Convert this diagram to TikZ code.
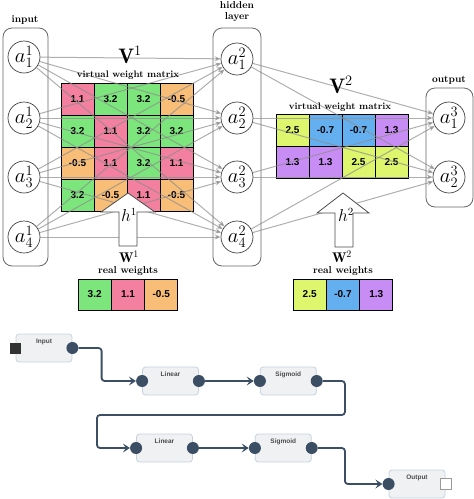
\documentclass[tikz,border=0pt]{standalone}
\usepackage{fontspec}
\setsansfont{Liberation Sans}
\usetikzlibrary{positioning,arrows.meta}
\definecolor{cellpink}{HTML}{F2809E}
\definecolor{cellgreen}{HTML}{7CE67C}
\definecolor{cellorange}{HTML}{F8BE78}
\definecolor{cellyellow}{HTML}{DEF56E}
\definecolor{cellblue}{HTML}{64AFF0}
\definecolor{cellpurple}{HTML}{C88CF5}
\definecolor{wireslate}{HTML}{3B4E63}
\definecolor{blockfill}{HTML}{EFF1F3}
\definecolor{blockedge}{HTML}{C5D2DE}

\begin{document}
\begin{tikzpicture}[
  x=1pt, y=-1pt,
  layerbox/.style={draw=black!60, rounded corners=9pt, line width=0.8pt},
  layername/.style={font=\fontsize{10}{12}\selectfont\bfseries, align=center, inner sep=0pt},
  neuron/.style={
    circle, draw=black!75, fill=white, line width=0.7pt,
    minimum size=32pt, inner sep=0pt,
    font=\fontsize{21}{24}\selectfont
  },
  cell/.style={
    draw=black, line width=1pt,
    minimum width=33pt, minimum height=32pt, inner sep=0pt,
    font=\sffamily\bfseries\fontsize{10}{12}\selectfont
  },
  wcell/.style={cell, minimum width=33.3pt, minimum height=31pt},
  link/.style={draw=black!45, line width=1pt, opacity=.7, -{Stealth[length=6pt,width=5pt]}},
  hollow/.style={draw=black!70, fill=white, line width=0.8pt},
  bigmat/.style={font=\fontsize{21}{24}\selectfont, inner sep=0pt},
  smallmat/.style={font=\fontsize{14}{16}\selectfont, inner sep=0pt},
  subname/.style={font=\fontsize{9.5}{11}\selectfont\bfseries, inner sep=0pt},
  block/.style={
    draw=blockedge, fill=blockfill, rounded corners=3pt,
    minimum width=56pt, minimum height=28pt, line width=0.8pt
  },
  blockname/.style={anchor=north, yshift=-3pt, inner sep=2pt,
    font=\sffamily\bfseries\fontsize{6.5}{8}\selectfont, text=black!70},
  port/.style={circle, fill=wireslate, minimum size=12pt, inner sep=0pt},
  wire/.style={draw=wireslate, line width=1.8pt, rounded corners=3pt,
    -{Stealth[length=7pt, width=9pt, inset=3pt]}},
]
\useasboundingbox (0,0) rectangle (474,499);

% Layer frames and their titles.
\node[layerbox, minimum width=45pt, minimum height=238pt] (inbox) at (25.5,147) {};
\node[layerbox, minimum width=48pt, minimum height=238pt] (hidbox) at (237,147) {};
\node[layerbox, minimum width=47pt, minimum height=119pt] (outbox) at (449.5,147.5) {};
\node[layername] (inname) at (25,20) {input};
\node[layername] (hidname) at (237,12) {hidden\\[-1pt]layer};
\node[layername] (outname) at (449,80) {output};

% Virtual weight matrices.
\foreach \r/\c/\val/\col in {
  1/1/1.1/cellpink, 1/2/3.2/cellgreen, 1/3/3.2/cellgreen, 1/4/-0.5/cellorange,
  2/1/3.2/cellgreen, 2/2/1.1/cellpink, 2/3/3.2/cellgreen, 2/4/3.2/cellgreen,
  3/1/-0.5/cellorange, 3/2/1.1/cellpink, 3/3/3.2/cellgreen, 3/4/1.1/cellpink,
  4/1/3.2/cellgreen, 4/2/-0.5/cellorange, 4/3/1.1/cellpink, 4/4/-0.5/cellorange}
  \node[cell, fill=\col] (vone-\r-\c) at ({61+33*\c-16.5},{83+32*\r-16}) {\val};
\foreach \r/\c/\val/\col in {
  1/1/2.5/cellyellow, 1/2/-0.7/cellblue, 1/3/-0.7/cellblue, 1/4/1.3/cellpurple,
  2/1/1.3/cellpurple, 2/2/1.3/cellpurple, 2/3/2.5/cellyellow, 2/4/2.5/cellyellow}
  \node[cell, fill=\col] (vtwo-\r-\c) at ({276+33*\c-16.5},{114+32*\r-16}) {\val};

% Real weights.
\foreach \c/\val/\col in {1/3.2/cellgreen, 2/1.1/cellpink, 3/-0.5/cellorange}
  \node[wcell, fill=\col] (wone-\c) at ({78+33.3*\c-16.65},294.5) {\val};
\foreach \c/\val/\col in {1/2.5/cellyellow, 2/-0.7/cellblue, 3/1.3/cellpurple}
  \node[wcell, fill=\col] (wtwo-\c) at ({293+33.3*\c-16.65},294.5) {\val};

% Neurons.
\node[neuron] (in1) at (24,57) {$a^1_1$};
\node[neuron] (in2) at (24,118) {$a^1_2$};
\node[neuron] (in3) at (24,177) {$a^1_3$};
\node[neuron] (in4) at (24,237) {$a^1_4$};
\node[neuron] (hid1) at (237,59) {$a^2_1$};
\node[neuron] (hid2) at (237,118) {$a^2_2$};
\node[neuron] (hid3) at (237,177) {$a^2_3$};
\node[neuron] (hid4) at (237,237) {$a^2_4$};
\node[neuron] (out1) at (449,118) {$a^3_1$};
\node[neuron] (out2) at (449,177) {$a^3_2$};

% All-to-all connections, drawn over the matrices.
\foreach \i in {1,...,4}
  \foreach \j in {1,...,4}
    \draw[link] (in\i) -- (hid\j);
\foreach \i in {1,...,4}
  \foreach \j in {1,2}
    \draw[link] (hid\i) -- (out\j);

% Hollow arrows from real to virtual weights.
\draw[hollow] (128,193) -- (155,212) -- (137,212) -- (137,246)
  -- (119,246) -- (119,212) -- (101,212) -- cycle;
\draw[hollow] (343,193) -- (369,213) -- (353,213) -- (353,247)
  -- (335,247) -- (335,213) -- (317,213) -- cycle;
\node[font=\fontsize{16}{18}\selectfont, inner sep=0pt] (hone) at (129,215) {$h^1$};
\node[font=\fontsize{16}{18}\selectfont, inner sep=0pt] (htwo) at (346,215) {$h^2$};

% Matrix titles.
\node[bigmat] (vonename) at (130,55) {$\mathbf{V}^1$};
\node[subname] (vonesub) at (128,75) {virtual weight matrix};
\node[bigmat] (vtwoname) at (341,85) {$\mathbf{V}^2$};
\node[subname] (vtwosub) at (340,107) {virtual weight matrix};
\node[smallmat] (wonename) at (129,257) {$\mathbf{W}^1$};
\node[subname, font=\fontsize{10}{12}\selectfont\bfseries] (wonesub) at (128,271) {real weights};
\node[smallmat] (wtwoname) at (342,257) {$\mathbf{W}^2$};
\node[subname, font=\fontsize{10}{12}\selectfont\bfseries] (wtwosub) at (343,271) {real weights};

% Layer graph below.
\node[block, label={[blockname]north:Input}] (inp) at (44,348) {};
\node[block, label={[blockname]north:Linear}] (lin1) at (170.5,381) {};
\node[block, label={[blockname]north:Sigmoid}, right=61pt of lin1] (sig1) {};
\node[block, label={[blockname]north:Linear}] (lin2) at (164.5,448) {};
\node[block, label={[blockname]north:Sigmoid}, right=62pt of lin2] (sig2) {};
\node[block, label={[blockname]north:Output}] (outb) at (417,484) {};

\node[fill=black!80, minimum size=11pt, inner sep=0pt] (inp-sq) at (inp.west) {};
\node[fill=white, draw=black!40, line width=0.8pt, minimum size=11pt, inner sep=0pt] (outb-sq) at (outb.east) {};

\node[port] (inp-o) at (inp.east) {};
\node[port] (lin1-i) at (lin1.west) {};
\node[port] (lin1-o) at (lin1.east) {};
\node[port] (sig1-i) at (sig1.west) {};
\node[port] (sig1-o) at (sig1.east) {};
\node[port] (lin2-i) at (lin2.west) {};
\node[port] (lin2-o) at (lin2.east) {};
\node[port] (sig2-i) at (sig2.west) {};
\node[port] (sig2-o) at (sig2.east) {};
\node[port] (outb-i) at (outb.west) {};

\coordinate (turn) at (97,415);
\draw[wire] (inp-o.east) -- ++(23,0) |- (lin1-i.west);
\draw[wire] (lin1-o) -- (sig1-i);
\draw[wire] (sig1-o.east) -- ++(22,0) |- (turn) |- (lin2-i.west);
\draw[wire] (lin2-o) -- (sig2-i);
\draw[wire] (sig2-o.east) -- ++(27,0) |- (outb-i.west);

\end{tikzpicture}
\end{document}
